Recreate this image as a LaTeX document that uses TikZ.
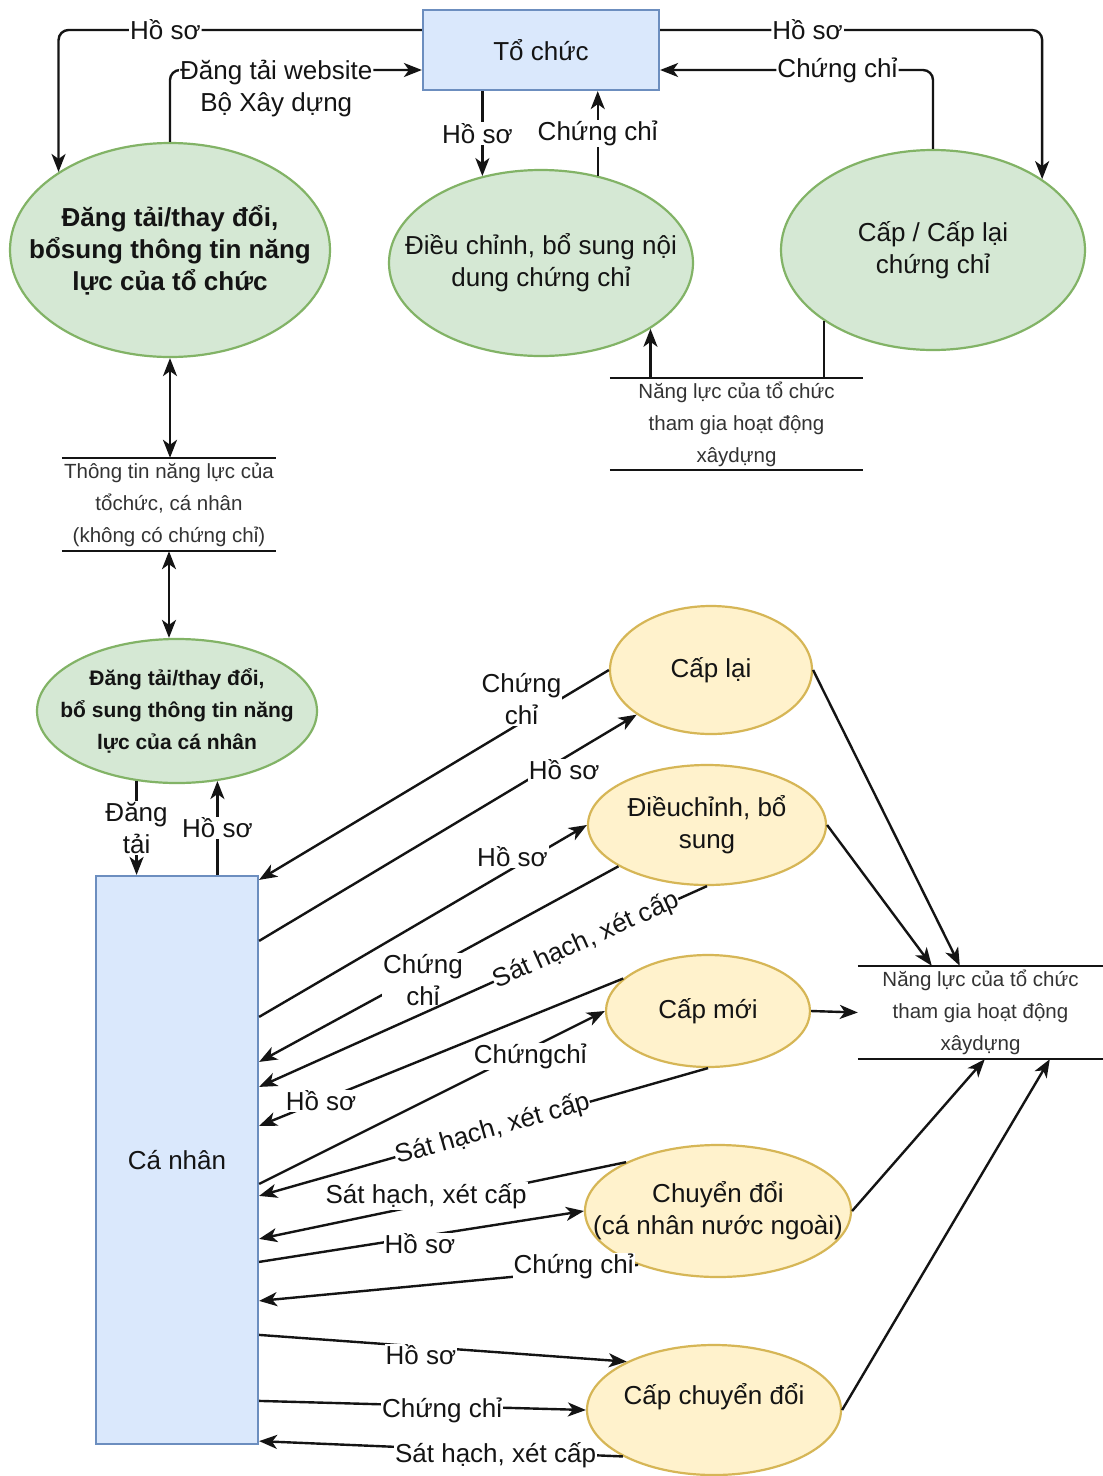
\documentclass[tikz,border=0pt]{standalone}
\usepackage{fontspec}
\setmainfont{Liberation Sans}
\usetikzlibrary{arrows.meta,shapes.geometric,calc}

\definecolor{blueF}{HTML}{DAE8FC}
\definecolor{blueD}{HTML}{6C8EBF}
\definecolor{greenF}{HTML}{D5E8D4}
\definecolor{greenD}{HTML}{82B366}
\definecolor{yelF}{HTML}{FFF2CC}
\definecolor{yelD}{HTML}{D6B656}
\definecolor{ink}{HTML}{141414}

\newcommand\fmain{\fontsize{26}{32}\selectfont}
\newcommand\fstore{\fontsize{20.5}{32}\selectfont}
\newcommand\fbold{\fontsize{26}{32}\selectfont\bfseries}
\newcommand\fboldsm{\fontsize{21}{32}\selectfont\bfseries}

\begin{document}
\begin{tikzpicture}[x=1pt,y=-1pt,
  >={Stealth[length=18pt,width=14pt,inset=5pt]},
  every node/.style={text=ink},
  entity/.style={draw=blueD, fill=blueF, line width=2.2pt, inner sep=0pt},
  greenproc/.style={ellipse, draw=greenD, fill=greenF, line width=2.2pt, inner sep=0pt},
  yelproc/.style={ellipse, draw=yelD, fill=yelF, line width=2.2pt, inner sep=0pt},
  txt/.style={align=center, font=\fmain, inner sep=0pt},
  store/.style={align=center, font=\fstore, text=black!80, inner sep=0pt},
  flow/.style={draw=ink, line width=2.4pt, ->},
  twoway/.style={draw=ink, line width=2.4pt, <->},
  plain/.style={draw=ink, line width=2.4pt},
  lbl/.style={fill=white, inner sep=1pt, align=center, font=\fmain},
]
\fill[white] (0,0) rectangle (1103,1476);
\useasboundingbox (0,0) rectangle (1103,1476);

% ---------- organisation part ----------
\node[entity, minimum width=236pt, minimum height=80pt, font=\fmain] (toChuc) at (541,50) {Tổ chức};

\node[greenproc, minimum width=320pt, minimum height=214pt] (e1) at (170,250) {};
\node[txt, font=\fbold] (e1t) at (e1) {Đăng tải/thay đổi,\\bổsung thông tin năng\\lực của tổ chức};

\node[greenproc, minimum width=304pt, minimum height=186pt] (e2) at (541,263) {};
\node[txt] (e2t) at (e2) {Điều chỉnh, bổ sung nội\\dung chứng chỉ};

\node[greenproc, minimum width=304pt, minimum height=200pt] (e3) at (933,250) {};
\node[txt] (e3t) at (e3) {Cấp / Cấp lại\\chứng chỉ};

\node[store, minimum width=253pt, minimum height=92pt] (st1) at (736.5,424) {Năng lực của tổ chức\\tham gia hoạt động\\xâydựng};
\draw[plain] (st1.north west) -- (st1.north east);
\draw[plain] (st1.south west) -- (st1.south east);

\node[store, minimum width=214pt, minimum height=93pt] (st2) at (169,504.5) {Thông tin năng lực của\\tổchức, cá nhân\\(không có chứng chỉ)};
\draw[plain] (st2.north west) -- (st2.north east);
\draw[plain] (st2.south west) -- (st2.south east);

% flows around the organisation
\draw[flow, rounded corners=10pt] ([yshift=20pt]toChuc.west) -| node[lbl, pos=0.353] {Hồ sơ} (e1.145.7);
\draw[flow, rounded corners=10pt] (e1.north) |- node[lbl, pos=0.711, yshift=-19pt] {Đăng tải website\\Bộ Xây dựng} ([yshift=-20pt]toChuc.west);
\draw[flow] (toChuc.south -| e2.124.5) -- node[lbl, xshift=-5pt] {Hồ sơ} (e2.124.5);
\draw[flow] (e2.57.1) -- node[lbl] {Chứng chỉ} (toChuc.south -| e2.57.1);
\draw[flow, rounded corners=10pt] ([yshift=20pt]toChuc.east) -| node[lbl, pos=0.193] {Hồ sơ} (e3.33.6);
\draw[flow, rounded corners=10pt] (e3.north) |- node[lbl, pos=0.675] {Chứng chỉ} ([yshift=-20pt]toChuc.east);
\draw[flow] (st1.north -| e2.-31.7) -- (e2.-31.7);
\draw[plain] (e3.213.6) -- (st1.north -| e3.213.6);
\draw[twoway] (e1.south) -- (e1.south |- st2.north);

% ---------- individual part ----------
\node[greenproc, minimum width=280pt, minimum height=144pt] (e4) at (177,711) {};
\node[txt, font=\fboldsm] (e4t) at (e4) {Đăng tải/thay đổi,\\bổ sung thông tin năng\\lực của cá nhân};
\draw[twoway] (st2.south) -- (st2.south |- e4.north);

\node[entity, minimum width=162pt, minimum height=568pt, font=\fmain] (caNhan) at (177,1160) {Cá nhân};

\draw[flow] (e4.240.6) -- node[lbl] {Đăng\\tải} (e4.240.6 |- caNhan.north);
\draw[flow] (caNhan.north -| e4.300.1) -- node[lbl] {Hồ sơ} (e4.300.1);

\node[yelproc, minimum width=202pt, minimum height=128pt] (capLai) at (711,670) {};
\node[txt] (capLaiT) at (capLai) {Cấp lại};
\node[yelproc, minimum width=238pt, minimum height=120pt] (dieuChinh) at (707,825) {};
\node[txt] (dieuChinhT) at (dieuChinh) {Điềuchỉnh, bổ\\sung};
\node[yelproc, minimum width=204pt, minimum height=112pt] (capMoi) at (708,1011) {};
\node[txt] (capMoiT) at (capMoi) {Cấp mới};
\node[yelproc, minimum width=266pt, minimum height=132pt] (chuyenDoi) at (718,1211) {};
\node[txt] (chuyenDoiT) at (chuyenDoi) {Chuyển đổi\\(cá nhân nước ngoài)};
\node[yelproc, minimum width=254pt, minimum height=130pt] (capCD) at (714,1410) {};
\node[txt] (capCDT) at (714,1397) {Cấp chuyển đổi};

\node[store, minimum width=245pt, minimum height=93pt] (st3) at (980.5,1012.5) {Năng lực của tổ chức\\tham gia hoạt động\\xâydựng};
\draw[plain] (st3.north west) -- (st3.north east);
\draw[plain] (st3.south west) -- (st3.south east);

% flows between the individual and the certificate processes
\draw[flow] (capLai.west) -- node[lbl, pos=0.25, yshift=23pt] {Chứng\\chỉ} ([yshift=-5pt]caNhan.north east);
\draw[flow] ([yshift=-66pt]caNhan.north east) -- node[lbl, pos=0.808, yshift=-12pt] {Hồ sơ} (capLai.211.1);
\draw[flow] ([yshift=-142pt]caNhan.north east) -- node[lbl, pos=0.773, yshift=12pt] {Hồ sơ} (dieuChinh.west);
\draw[flow] (dieuChinh.205.2) -- node[lbl, pos=0.544, yshift=-7pt] {Chứng\\chỉ} ([yshift=-187pt]caNhan.north east);
\draw[flow] (dieuChinh.south) -- node[lbl, pos=0.27, sloped, inner sep=0.5pt] {Sát hạch, xét cấp} ([yshift=-212pt]caNhan.north east);
\draw[flow] (capMoi.159.5) -- node[lbl, pos=0.83] {Hồ sơ} ([yshift=-251pt]caNhan.north east);
\draw[flow] ([yshift=-309pt]caNhan.north east) -- node[lbl, pos=0.784, yshift=-8pt] {Chứngchỉ} (capMoi.west);
\draw[flow] (capMoi.south) -- node[lbl, pos=0.48, sloped, inner sep=0.5pt] {Sát hạch, xét cấp} ([yshift=-321pt]caNhan.north east);
\draw[flow] (chuyenDoi.152.7) -- node[lbl, pos=0.545, yshift=8pt] {Sát hạch, xét cấp} ([yshift=-364pt]caNhan.north east);
\draw[flow] ([yshift=-387pt]caNhan.north east) -- node[lbl, pos=0.495, yshift=-7pt] {Hồ sơ} (chuyenDoi.west);
\draw[flow] (chuyenDoi.214.2) -- node[lbl, pos=0.17, yshift=5pt] {Chứng chỉ} ([yshift=-426pt]caNhan.north east);
\draw[flow] ([yshift=-460pt]caNhan.north east) -- node[lbl, pos=0.44, yshift=-8pt] {Hồ sơ} (capCD.151.7);
\draw[flow] ([yshift=-526pt]caNhan.north east) -- node[lbl, pos=0.56, yshift=-4pt] {Chứng chỉ} (capCD.west);
\draw[flow] (capCD.207.3) -- node[lbl, pos=0.35, yshift=-4pt] {Sát hạch, xét cấp} ([yshift=4pt]caNhan.south east);

% results stored as capacity records
\draw[flow] (capLai.east) -- ([xshift=102pt]st3.north west);
\draw[flow] (dieuChinh.east) -- ([xshift=74pt]st3.north west);
\draw[flow] (capMoi.east) -- (st3.west);
\draw[flow] (chuyenDoi.east) -- ([xshift=127pt]st3.south west);
\draw[flow] (capCD.east) -- ([xshift=192pt]st3.south west);
\end{tikzpicture}
\end{document}
